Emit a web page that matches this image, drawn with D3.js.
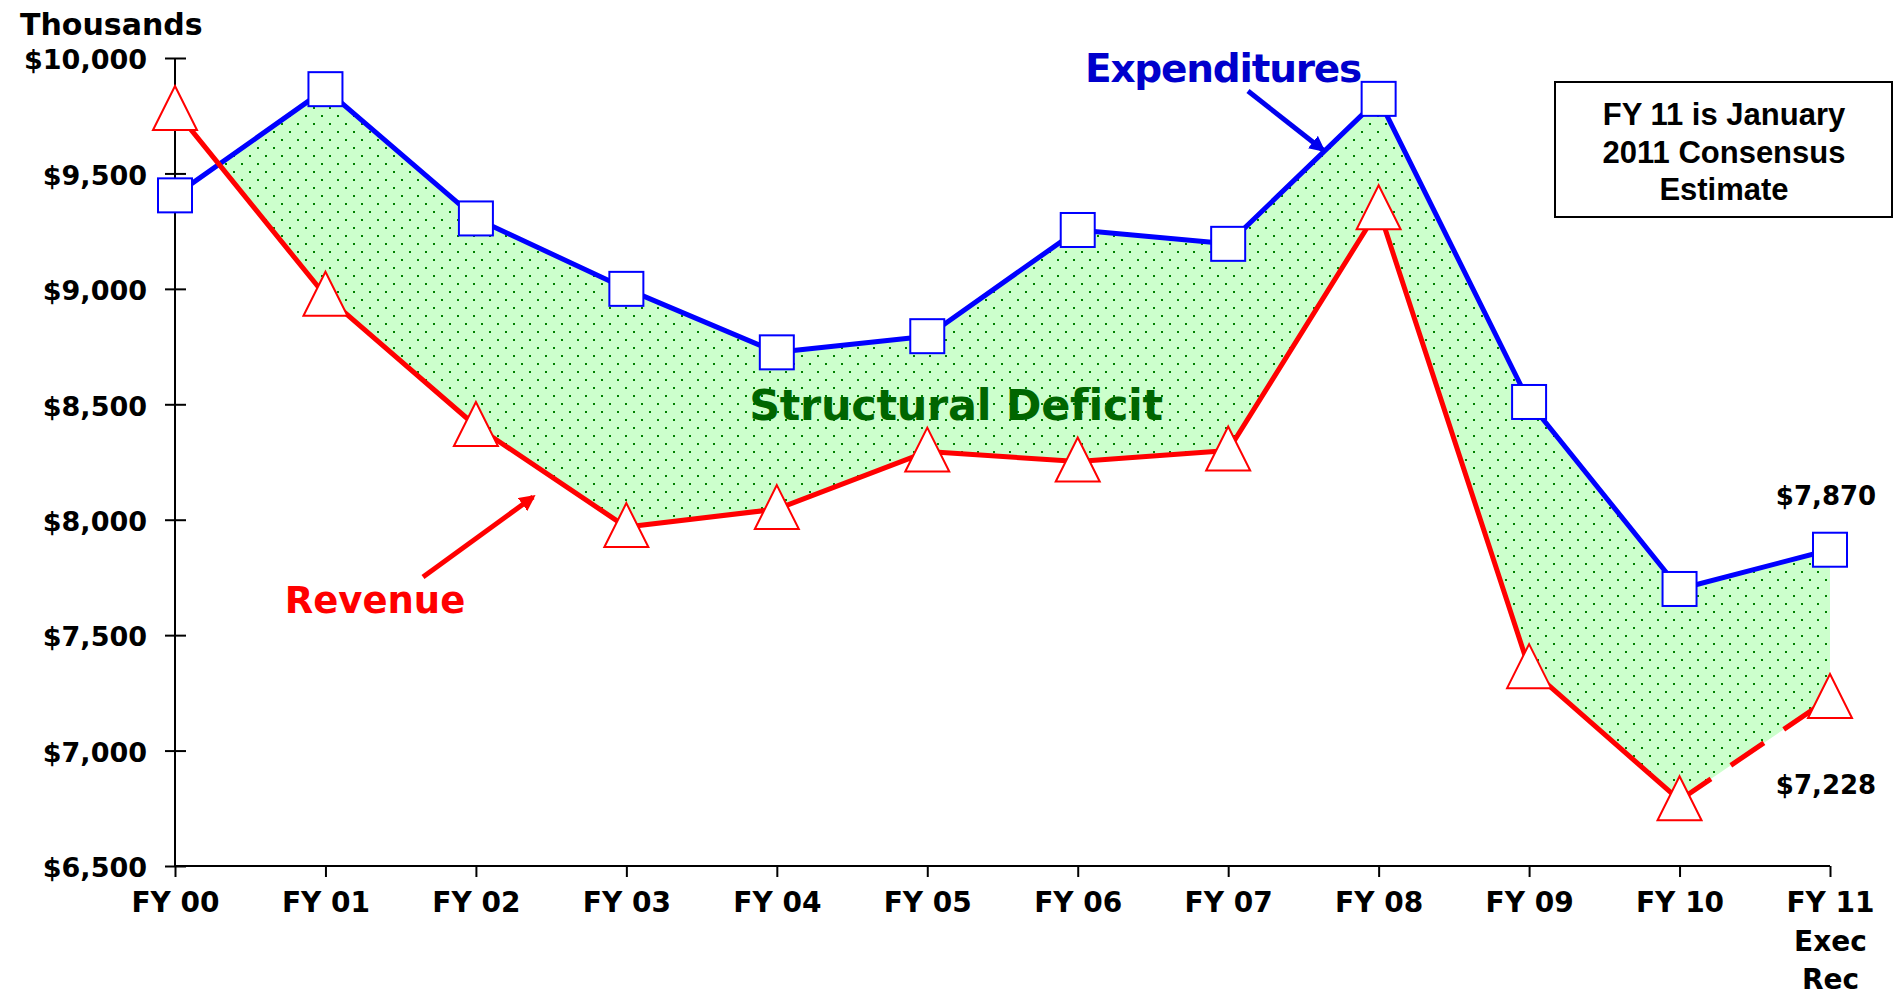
<!DOCTYPE html>
<html>
<head>
<meta charset="utf-8">
<script src="https://cdn.jsdelivr.net/npm/d3@7"></script>
<style>
  html, body { margin: 0; padding: 0; background: #ffffff; }
  svg { display: block; }
</style>
</head>
<body>
<svg id="chart" width="1895" height="998"></svg>
<script>
// ---- data ----
const categories = ["FY 00", "FY 01", "FY 02", "FY 03", "FY 04", "FY 05", "FY 06", "FY 07", "FY 08", "FY 09", "FY 10", "FY 11"];
const categoryLines = [["FY 00"], ["FY 01"], ["FY 02"], ["FY 03"], ["FY 04"], ["FY 05"], ["FY 06"], ["FY 07"], ["FY 08"], ["FY 09"], ["FY 10"], ["FY 11", "Exec", "Rec"]];
const expenditures = [9405, 9865, 9305, 9000, 8725, 8795, 9255, 9195, 9823, 8510, 7700, 7870];
const revenue = [9775, 8970, 8406, 7968, 8046, 8295, 8252, 8300, 9345, 7357, 6785, 7228];
const yTicks = [6500, 7000, 7500, 8000, 8500, 9000, 9500, 10000];
const yDomain = [6500, 10000];
const estimatedFrom = "FY 10"; // revenue segment after this is dashed (estimate)
const noteLines = ["FY 11 is January", "2011 Consensus", "Estimate"];
const endLabels = { expenditures: "$7,870", revenue: "$7,228" };

// ---- setup ----
const svg = d3.select("#chart");
const x = d3.scalePoint().domain(categories).range([175, 1830]);
const y = d3.scaleLinear().domain(yDomain).range([866, 58]);
const rows = categories.map((c, i) => ({ c, exp: expenditures[i], rev: revenue[i] }));
const fmt = d3.format("$,.0f");
const bold = "'DejaVu Sans', Verdana, sans-serif";
const arial = "'Liberation Sans', Arial, sans-serif";

const defs = svg.append("defs");
const pat = defs.append("pattern").attr("id", "dots").attr("patternUnits", "userSpaceOnUse")
  .attr("width", 16).attr("height", 16).attr("x", 1).attr("y", 3);
pat.append("rect").attr("width", 16).attr("height", 16).attr("fill", "#ccffcc");
pat.append("rect").attr("x", 0).attr("y", 0).attr("width", 2).attr("height", 2).attr("fill", "#008000");
pat.append("rect").attr("x", 8).attr("y", 8).attr("width", 2).attr("height", 2).attr("fill", "#008000");

// clip: region below expenditures line
const belowExp = d3.area().x(d => x(d.c)).y0(y.range()[0]).y1(d => y(d.exp));
defs.append("clipPath").attr("id", "clipExp").append("path").attr("d", belowExp(rows));

// marker arrowheads
function arrowMarker(id, color) {
  defs.append("marker").attr("id", id).attr("viewBox", "0 0 10 10")
    .attr("refX", 8).attr("refY", 5).attr("markerWidth", 3.2).attr("markerHeight", 3.2)
    .attr("orient", "auto").append("path").attr("d", "M0,0 L10,5 L0,10 Z").attr("fill", color);
}
arrowMarker("arrRed", "#ff0000");
arrowMarker("arrBlue", "#0000ee");

// ---- deficit fill (above revenue, below expenditures) ----
const aboveRev = d3.area().x(d => x(d.c)).y0(d => y(d.rev)).y1(y.range()[1]);
svg.append("path").attr("d", aboveRev(rows)).attr("fill", "url(#dots)").attr("clip-path", "url(#clipExp)");

// ---- axes ----
const yAxis = svg.append("g").attr("transform", `translate(${x.range()[0]},0)`)
  .call(d3.axisLeft(y).tickValues(yTicks).tickSize(10).tickPadding(18).tickFormat(fmt));
yAxis.select(".domain").attr("stroke", "#000").attr("stroke-width", 2).attr("d", `M0,${y.range()[0]}V${y.range()[1]}`);
yAxis.selectAll(".tick line").attr("x1", 11).attr("stroke", "#000").attr("stroke-width", 2);
yAxis.selectAll(".tick text").attr("font-family", bold).attr("font-weight", "bold").attr("font-size", 27)
  .attr("fill", "#000").attr("dy", "0.40em");

const xAxis = svg.append("g").attr("transform", `translate(0,${y.range()[0]})`)
  .call(d3.axisBottom(x).tickSize(11).tickFormat(""));
xAxis.select(".domain").attr("stroke", "#000").attr("stroke-width", 2).attr("d", `M${x.range()[0]},0H${x.range()[1]}`);
xAxis.selectAll(".tick line").attr("stroke", "#000").attr("stroke-width", 2);
xAxis.selectAll(".tick").each(function(d, i) {
  const t = d3.select(this).append("text").attr("fill", "#000").attr("font-family", bold)
    .attr("font-weight", "bold").attr("font-size", 28).attr("text-anchor", "middle");
  categoryLines[i].forEach((ln, k) => t.append("tspan").attr("x", 0).attr("y", 46 + k * 38.5).text(ln));
});

svg.append("text").attr("x", 20).attr("y", 35).attr("font-family", bold).attr("font-weight", "bold")
  .attr("font-size", 30).attr("fill", "#000").text("Thousands");

// ---- lines ----
const line = (acc) => d3.line().x(d => x(d.c)).y(d => y(acc(d)));
svg.append("path").attr("d", line(d => d.exp)(rows)).attr("fill", "none").attr("stroke", "#0000ff")
  .attr("stroke-width", 5).attr("stroke-linejoin", "round");
const splitIdx = categories.indexOf(estimatedFrom);
svg.append("path").attr("d", line(d => d.rev)(rows.slice(0, splitIdx + 1))).attr("fill", "none")
  .attr("stroke", "#ff0000").attr("stroke-width", 5).attr("stroke-linejoin", "round");
svg.append("path").attr("d", line(d => d.rev)(rows.slice(splitIdx))).attr("fill", "none")
  .attr("stroke", "#ff0000").attr("stroke-width", 5).attr("stroke-dasharray", "40,24").attr("stroke-dashoffset", 2);

// ---- markers ----
svg.selectAll(".sq").data(rows).join("rect").attr("class", "sq")
  .attr("x", d => x(d.c) - 17).attr("y", d => y(d.exp) - 17).attr("width", 34).attr("height", 34)
  .attr("fill", "#fff").attr("stroke", "#0000ff").attr("stroke-width", 2);
svg.selectAll(".tri").data(rows).join("path").attr("class", "tri")
  .attr("transform", d => `translate(${x(d.c)},${y(d.rev)})`)
  .attr("d", "M0,-24 L22,20 L-22,20 Z")
  .attr("fill", "#fff").attr("stroke", "#ff0000").attr("stroke-width", 2);

// ---- annotations ----
svg.append("text").attr("x", 1223).attr("y", 82).attr("text-anchor", "middle").attr("font-family", bold)
  .attr("font-weight", "bold").attr("font-size", 39).attr("letter-spacing", -1.2).attr("fill", "#0000cc").text("Expenditures");
svg.append("line").attr("x1", 1248).attr("y1", 91).attr("x2", 1323).attr("y2", 150)
  .attr("stroke", "#0000ee").attr("stroke-width", 5).attr("marker-end", "url(#arrBlue)");

svg.append("text").attr("x", 375).attr("y", 613).attr("text-anchor", "middle").attr("font-family", bold)
  .attr("font-weight", "bold").attr("font-size", 37).attr("fill", "#ff0000").text("Revenue");
svg.append("line").attr("x1", 423).attr("y1", 577).attr("x2", 533).attr("y2", 497)
  .attr("stroke", "#ff0000").attr("stroke-width", 5).attr("marker-end", "url(#arrRed)");

svg.append("text").attr("x", 956).attr("y", 420).attr("text-anchor", "middle").attr("font-family", bold)
  .attr("font-weight", "bold").attr("font-size", 43).attr("letter-spacing", -0.3).attr("fill", "#006600").text("Structural Deficit");

const last = rows[rows.length - 1];
svg.append("text").attr("x", x(last.c) - 4).attr("y", 505).attr("text-anchor", "middle").attr("font-family", bold)
  .attr("font-weight", "bold").attr("font-size", 26).attr("fill", "#000").text(endLabels.expenditures);
svg.append("text").attr("x", x(last.c) - 4).attr("y", 794).attr("text-anchor", "middle").attr("font-family", bold)
  .attr("font-weight", "bold").attr("font-size", 26).attr("fill", "#000").text(endLabels.revenue);

// note box
svg.append("rect").attr("x", 1555).attr("y", 82).attr("width", 337).attr("height", 135)
  .attr("fill", "#fff").attr("stroke", "#000").attr("stroke-width", 2);
const note = svg.append("text").attr("text-anchor", "middle").attr("font-family", arial)
  .attr("font-weight", "bold").attr("font-size", 31).attr("fill", "#000");
noteLines.forEach((ln, k) => note.append("tspan").attr("x", 1724).attr("y", 125 + k * 37.5).text(ln));
</script>
</body>
</html>
